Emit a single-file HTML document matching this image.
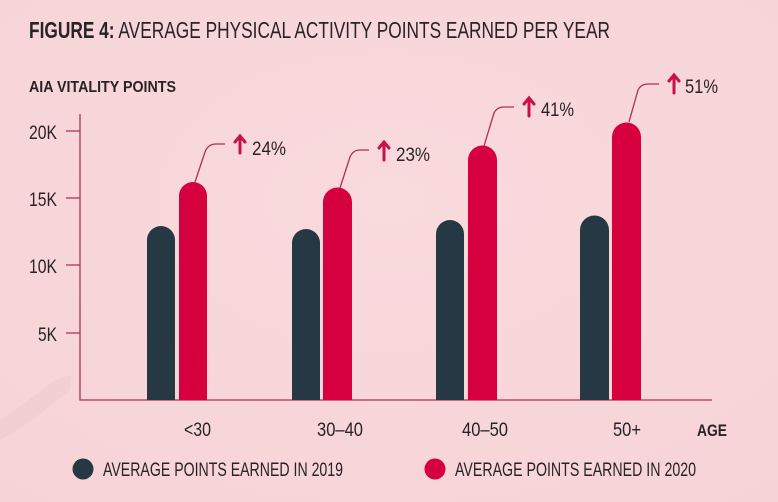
<!DOCTYPE html>
<html><head><meta charset="utf-8"><style>
html,body{margin:0;padding:0;background:#f8d8db;}
svg{display:block;font-family:"Liberation Sans Narrow","Liberation Sans",sans-serif;}
</style></head><body>
<svg width="778" height="502" viewBox="0 0 778 502" xmlns="http://www.w3.org/2000/svg">
<defs><radialGradient id="bg" cx="0.5" cy="0.4" r="0.8"><stop offset="0" stop-color="#f9dadd"/><stop offset="1" stop-color="#f6d3d6"/></radialGradient></defs>
<rect width="778" height="502" fill="url(#bg)"/>
<path d="M0 420 Q30 400 55 380 L72 375 L70 390 L45 410 Q20 430 0 440Z" fill="#ecc9cc" opacity="0.5"/>
<text x="29" y="38" font-size="23" fill="#2a2326" textLength="581" lengthAdjust="spacingAndGlyphs"><tspan font-weight="bold">FIGURE 4:</tspan> AVERAGE PHYSICAL ACTIVITY POINTS EARNED PER YEAR</text>
<text x="29" y="92" font-size="16" font-weight="bold" fill="#2a2326" textLength="147" lengthAdjust="spacingAndGlyphs">AIA VITALITY POINTS</text>
<g font-size="19" fill="#2a2326" lengthAdjust="spacingAndGlyphs">
<text x="29" y="139" textLength="28" lengthAdjust="spacingAndGlyphs">20K</text>
<text x="29" y="206" textLength="28" lengthAdjust="spacingAndGlyphs">15K</text>
<text x="29" y="273" textLength="28" lengthAdjust="spacingAndGlyphs">10K</text>
<text x="38" y="341" textLength="19" lengthAdjust="spacingAndGlyphs">5K</text>
</g>
<g stroke="#b03050" stroke-width="1.3" fill="none">
<path d="M80 114 V400 H712"/>
<path d="M66 131 H80 M66 198 H80 M66 265 H80 M66 333 H80"/>
</g>
<g fill="#273845">
<path d="M147 400 V240 a14 14 0 0 1 28 0 V400Z"/>
<path d="M292 400 V243 a14 14 0 0 1 28 0 V400Z"/>
<path d="M436 400 V234 a14 14 0 0 1 28 0 V400Z"/>
<path d="M580 400 V230 a14.5 14.5 0 0 1 29 0 V400Z"/>
</g>
<g fill="#d6003e">
<path d="M179 400 V196 a14 14 0 0 1 28 0 V400Z"/>
<path d="M323 400 V202 a14.5 14.5 0 0 1 29 0 V400Z"/>
<path d="M468 400 V160 a14.5 14.5 0 0 1 29 0 V400Z"/>
<path d="M612 400 V137 a14.5 14.5 0 0 1 29 0 V400Z"/>
</g>
<g stroke="#b03050" stroke-width="1.3" fill="none">
<path d="M195 182 L205 152 Q208 144 216 144 H225"/>
<path d="M340 188 L350 157 Q353 150 360 150 H369"/>
<path d="M484 146 L494 113 Q497 107 504 107 H514"/>
<path d="M629 122 L638 90 Q641 84 648 84 H659"/>
</g>
<g stroke="#c8104a" stroke-width="3" fill="none" stroke-linecap="round">
<path d="M240 153 V137 M235 142 L240 136 L245 142"/>
<path d="M384 160 V143 M379 148 L384 142 L389 148"/>
<path d="M529 116 V99 M524 104 L529 98 L534 104"/>
<path d="M674 93 V76 M669 81 L674 75 L679 81"/>
</g>
<g font-size="19" fill="#2a2326">
<text x="252" y="155" textLength="34" lengthAdjust="spacingAndGlyphs">24%</text>
<text x="396" y="161" textLength="34" lengthAdjust="spacingAndGlyphs">23%</text>
<text x="541" y="116" textLength="33" lengthAdjust="spacingAndGlyphs">41%</text>
<text x="685" y="93" textLength="33" lengthAdjust="spacingAndGlyphs">51%</text>
</g>
<g font-size="19" fill="#2a2326">
<text x="184" y="436" textLength="27" lengthAdjust="spacingAndGlyphs">&lt;30</text>
<text x="317" y="436" textLength="46" lengthAdjust="spacingAndGlyphs">30–40</text>
<text x="462" y="436" textLength="46" lengthAdjust="spacingAndGlyphs">40–50</text>
<text x="613" y="436" textLength="28" lengthAdjust="spacingAndGlyphs">50+</text>
</g>
<text x="697" y="436" font-size="17" font-weight="bold" fill="#2a2326" textLength="30" lengthAdjust="spacingAndGlyphs">AGE</text>
<circle cx="83" cy="469" r="10.5" fill="#273845"/>
<text x="103" y="476" font-size="19" fill="#2a2326" textLength="240" lengthAdjust="spacingAndGlyphs">AVERAGE POINTS EARNED IN 2019</text>
<circle cx="435" cy="469" r="10.5" fill="#d6003e"/>
<text x="455" y="476" font-size="19" fill="#2a2326" textLength="241" lengthAdjust="spacingAndGlyphs">AVERAGE POINTS EARNED IN 2020</text>
</svg>
</body></html>
